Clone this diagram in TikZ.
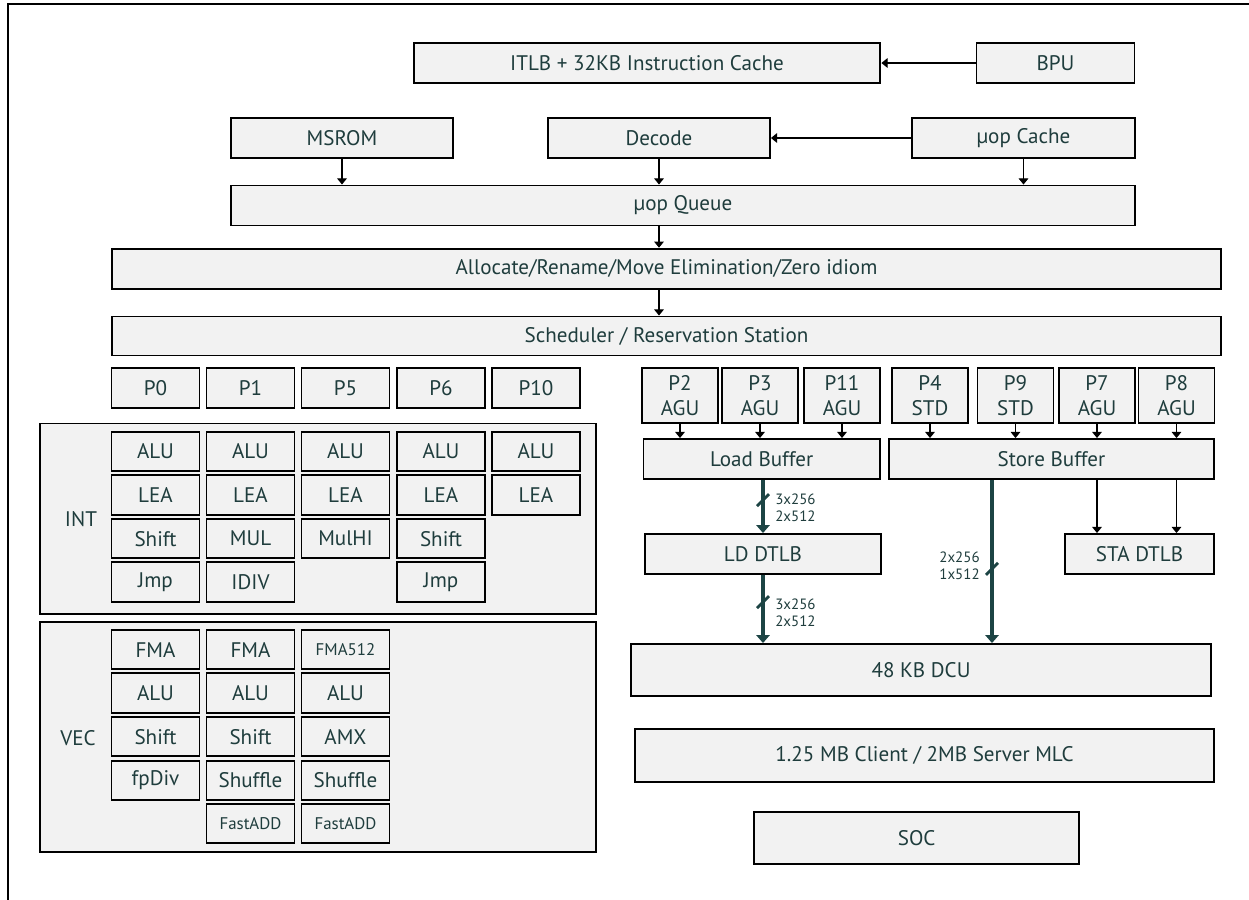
\documentclass[tikz,border=0pt]{standalone}
\usepackage{fontspec}
\setmainfont{PT Sans}
\usetikzlibrary{arrows.meta}
\definecolor{boxfill}{HTML}{F2F2F2}
\definecolor{inkteal}{HTML}{1F3D3D}
\definecolor{busteal}{HTML}{1C4444}

\begin{document}
\begin{tikzpicture}[x=0.02cm,y=-0.02cm]
	\tikzstyle{unit}=[draw=black,fill=boxfill,line width=1.1pt,text=inkteal,inner sep=0pt,align=center,font=\fontsize{12}{14.6}\selectfont]
	\tikzstyle{cell}=[unit,minimum width=1.76cm,minimum height=0.79cm]
	\tikzstyle{port}=[unit,minimum width=1.52cm,minimum height=1.11cm]
	\tikzstyle{group}=[draw=black,fill=boxfill,line width=1.1pt,inner sep=0pt]
	\tikzstyle{tag}=[text=inkteal,inner sep=0pt,font=\fontsize{12}{14.6}\selectfont]
	\tikzstyle{tiny}=[font=\fontsize{9.6}{10}\selectfont]
	\tikzstyle{wire}=[-{Triangle[length=3.5pt,width=5.5pt]},line width=0.6pt]
	\tikzstyle{bus}=[-{Triangle[length=4.5pt,width=7.5pt]},line width=2.3pt,draw=busteal,fill=busteal]
	\tikzstyle{cut}=[draw=busteal,line width=1.6pt]
	\tikzstyle{buslabel}=[text=inkteal,inner sep=0pt,align=left,font=\fontsize{8.5}{9.7}\selectfont]

	\useasboundingbox (0,0) rectangle (1249,900);
	\draw[line width=1.6pt] (8,900) -- (8,4) -- (1249,4);

	% front end
	\node[unit,minimum width=9.34cm,minimum height=0.8cm] (itlb) at (647,63) {ITLB + 32KB Instruction Cache};
	\node[unit,minimum width=3.16cm,minimum height=0.8cm] (bpu) at (1055.5,63) {BPU};
	\node[unit,minimum width=4.44cm,minimum height=0.8cm] (msrom) at (342,138) {MSROM};
	\node[unit,minimum width=4.44cm,minimum height=0.8cm] (decode) at (659,138) {Decode};
	\node[unit,minimum width=4.46cm,minimum height=0.8cm] (uopcache) at (1023.5,138) {µop Cache};
	\node[unit,minimum width=18.08cm,minimum height=0.8cm] (queue) at (683,205.5) {µop Queue};
	\node[unit,minimum width=22.2cm,minimum height=0.8cm] (alloc) at (666.5,268.7) {Allocate/Rename/Move Elimination/Zero idiom};
	\node[unit,minimum width=22.2cm,minimum height=0.78cm] (sched) at (666.5,336) {Scheduler / Reservation Station};

	\draw[wire] (bpu) -- (itlb);
	\draw[wire] (uopcache) -- (decode);
	\draw[wire] (msrom) -- (msrom |- queue.north);
	\draw[wire] (decode) -- (decode |- queue.north);
	\draw[wire] (uopcache) -- (uopcache |- queue.north);
	\draw[wire] (queue.south -| decode) -- (alloc.north -| decode);
	\draw[wire] (alloc.south -| decode) -- (sched.north -| decode);

	% ports
	\node[cell] (p0) at (155.5,388) {P0};
	\node[cell] (p1) at (250.5,388) {P1};
	\node[cell] (p5) at (345.5,388) {P5};
	\node[cell] (p6) at (441,388) {P6};
	\node[cell] (p10) at (536,388) {P10};

	% integer units
	\node[group,minimum width=11.12cm,minimum height=3.81cm] (int) at (318,518.7) {};
	\node[tag] (intname) at (81,519) {INT};
	\node[cell] (alu0) at (155.5,451.3) {ALU};
	\node[cell] (alu1) at (250.5,451.3) {ALU};
	\node[cell] (alu5) at (345.5,451.3) {ALU};
	\node[cell] (alu6) at (441,451.3) {ALU};
	\node[cell] (alu10) at (536,451.3) {ALU};
	\node[cell] (lea0) at (155.5,495) {LEA};
	\node[cell] (lea1) at (250.5,495) {LEA};
	\node[cell] (lea5) at (345.5,495) {LEA};
	\node[cell] (lea6) at (441,495) {LEA};
	\node[cell] (lea10) at (536,495) {LEA};
	\node[cell] (shift0) at (155.5,538.7) {Shift};
	\node[cell] (mul1) at (250.5,538.7) {MUL};
	\node[cell] (mulhi5) at (345.5,538.7) {MulHI};
	\node[cell] (shift6) at (441,538.7) {Shift};
	\node[cell] (jmp0) at (155.5,582) {Jmp};
	\node[cell] (idiv1) at (250.5,582) {IDIV};
	\node[cell] (jmp6) at (441,582) {Jmp};

	% vector units
	\node[group,minimum width=11.12cm,minimum height=4.6cm] (vec) at (318,736.7) {};
	\node[tag] (vecname) at (78,738) {VEC};
	\node[cell] (fma0) at (155.5,649.7) {FMA};
	\node[cell] (fma1) at (250.5,649.7) {FMA};
	\node[cell,tiny] (fma5) at (345.5,649.7) {FMA512};
	\node[cell] (valu0) at (155.5,693) {ALU};
	\node[cell] (valu1) at (250.5,693) {ALU};
	\node[cell] (valu5) at (345.5,693) {ALU};
	\node[cell] (vshift0) at (155.5,736.7) {Shift};
	\node[cell] (vshift1) at (250.5,736.7) {Shift};
	\node[cell] (amx5) at (345.5,736.7) {AMX};
	\node[cell] (fpdiv0) at (155.5,780.3) {fpDiv};
	\node[cell] (shuf1) at (250.5,780.3) {Shuffle};
	\node[cell] (shuf5) at (345.5,780.3) {Shuffle};
	\node[cell,tiny] (fadd1) at (250.5,823.7) {FastADD};
	\node[cell,tiny] (fadd5) at (345.5,823.7) {FastADD};

	% memory side
	\node[port] (p2) at (680,395.5) {P2\\AGU};
	\node[port] (p3) at (760,395.5) {P3\\AGU};
	\node[port] (p11) at (842,395.5) {P11\\AGU};
	\node[port] (p4) at (930,395.5) {P4\\STD};
	\node[port] (p9) at (1015.5,395.5) {P9\\STD};
	\node[port] (p7) at (1097,395.5) {P7\\AGU};
	\node[port] (p8) at (1176.5,395.5) {P8\\AGU};
	\node[unit,minimum width=4.73cm,minimum height=0.8cm] (lbuf) at (761.7,459) {Load Buffer};
	\node[unit,minimum width=6.51cm,minimum height=0.8cm] (sbuf) at (1051.5,459) {Store Buffer};
	\node[unit,minimum width=4.72cm,minimum height=0.8cm] (ldtlb) at (763,554) {LD DTLB};
	\node[unit,minimum width=2.98cm,minimum height=0.8cm] (statlb) at (1139.5,554) {STA DTLB};
	\node[unit,minimum width=11.59cm,minimum height=1.04cm] (dcu) at (921,670) {48 KB DCU};
	\node[unit,minimum width=11.59cm,minimum height=1.05cm] (mlc) at (924.5,755.5) {1.25 MB Client / 2MB Server MLC};
	\node[unit,minimum width=6.5cm,minimum height=1.05cm] (soc) at (916.7,838) {SOC};

	\draw[wire] (p2) -- (p2 |- lbuf.north);
	\draw[wire] (p3) -- (p3 |- lbuf.north);
	\draw[wire] (p11) -- (p11 |- lbuf.north);
	\draw[wire] (p4) -- (p4 |- sbuf.north);
	\draw[wire] (p9) -- (p9 |- sbuf.north);
	\draw[wire] (p7) -- (p7 |- sbuf.north);
	\draw[wire] (p8) -- (p8 |- sbuf.north);
	\draw[wire] (sbuf.south -| p7) -- (statlb.north -| p7);
	\draw[wire] (sbuf.south -| p8) -- (statlb.north -| p8);

	\draw[bus] (ldtlb |- lbuf.south) -- coordinate[pos=0.38] (cut1) (ldtlb.north);
	\draw[bus] (ldtlb) -- coordinate[pos=0.4] (cut2) (ldtlb |- dcu.north);
	\draw[bus] ([xshift=-1.19cm]sbuf.south) -- coordinate[pos=0.545] (cut3) ([xshift=-1.19cm]sbuf.south |- dcu.north);
	\draw[cut] ([shift={(-6,6)}]cut1) -- ([shift={(6,-6)}]cut1);
	\draw[cut] ([shift={(-6,6)}]cut2) -- ([shift={(6,-6)}]cut2);
	\draw[cut] ([shift={(-6,6)}]cut3) -- ([shift={(6,-6)}]cut3);
	\node[buslabel,anchor=west] (w1) at (775,508) {3x256\\2x512};
	\node[buslabel,anchor=west] (w2) at (775,613) {3x256\\2x512};
	\node[buslabel,anchor=east] (w3) at (980,566) {2x256\\1x512};
\end{tikzpicture}
\end{document}
